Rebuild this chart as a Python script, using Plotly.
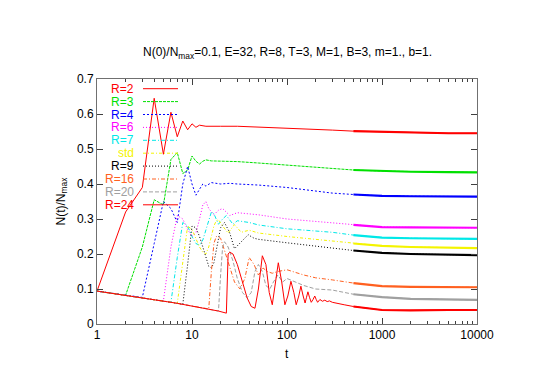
"""Population ratio N(t)/Nmax for several R values (gnuplot-style recreation)."""

import plotly.graph_objects as go

# Shared early decline, before each curve takes off at t = R - 1
DECLINE_T = [1, 2, 3, 4, 5, 6, 7, 8, 9, 10, 12, 15, 19, 23]
DECLINE_V = [0.094, 0.082, 0.076, 0.070, 0.066, 0.062, 0.059, 0.056, 0.054,
             0.052, 0.048, 0.043, 0.037, 0.031]

R2_T = [2, 3, 4, 5, 6, 7, 8, 9, 10, 11, 12, 14, 17, 20, 30, 50, 100, 200, 300,
        500, 1000, 2000, 3000, 5000, 10000]
R2_V = [0.32, 0.39, 0.645, 0.485, 0.605, 0.535, 0.58, 0.555, 0.572, 0.562,
        0.568, 0.565, 0.566, 0.565, 0.565, 0.563, 0.56, 0.557, 0.554, 0.551,
        0.549, 0.547, 0.546, 0.545, 0.545]

R3_T = [3, 4, 5, 6, 7, 8, 9, 10, 11, 12, 13, 14, 16, 20, 30, 50, 100, 200, 300,
        500, 1000, 2000, 5000, 10000]
R3_V = [0.22, 0.355, 0.34, 0.47, 0.49, 0.43, 0.44, 0.48, 0.465, 0.457, 0.465,
        0.469, 0.466, 0.466, 0.464, 0.46, 0.454, 0.447, 0.443, 0.44, 0.437,
        0.435, 0.434, 0.433]

R4_T = [4, 5, 6, 7, 8, 9, 10, 11, 12, 13, 14, 16, 20, 25, 30, 50, 100, 200,
        300, 500, 1000, 2000, 5000, 10000]
R4_V = [0.23, 0.35, 0.33, 0.29, 0.40, 0.45, 0.40, 0.368, 0.385, 0.40, 0.394,
        0.404, 0.40, 0.402, 0.40, 0.397, 0.39, 0.38, 0.374, 0.37, 0.366, 0.365,
        0.364, 0.364]

R6_T = [6, 7, 8, 9, 10, 11, 12, 13, 14, 15, 17, 19, 21, 25, 30, 40, 50, 100,
        200, 300, 500, 1000, 2000, 5000, 10000]
R6_V = [0.22, 0.31, 0.30, 0.27, 0.25, 0.26, 0.30, 0.34, 0.35, 0.33, 0.312,
        0.325, 0.33, 0.31, 0.318, 0.314, 0.312, 0.30, 0.293, 0.289, 0.283,
        0.277, 0.276, 0.275, 0.275]

R7_T = [7, 8, 9, 10, 11, 12, 13, 14, 15, 16, 17, 19, 21, 23, 27, 30, 40, 50,
        100, 200, 300, 500, 1000, 2000, 5000, 10000]
R7_V = [0.19, 0.29, 0.28, 0.25, 0.23, 0.225, 0.24, 0.27, 0.30, 0.32, 0.315,
        0.285, 0.30, 0.31, 0.285, 0.295, 0.29, 0.283, 0.272, 0.265, 0.262,
        0.254, 0.247, 0.245, 0.244, 0.243]

STD_T = [8, 9, 10, 11, 12, 13, 14, 15, 16, 17, 18, 19, 21, 24, 28, 33, 40, 50,
         100, 200, 300, 500, 1000, 2000, 5000, 10000]
STD_V = [0.18, 0.28, 0.27, 0.245, 0.22, 0.205, 0.20, 0.22, 0.25, 0.28, 0.295,
         0.298, 0.28, 0.26, 0.284, 0.262, 0.268, 0.26, 0.25, 0.242, 0.237,
         0.23, 0.223, 0.22, 0.218, 0.217]

R9_T = [9, 10, 11, 12, 13, 14, 15, 16, 17, 18, 19, 20, 22, 25, 28, 33, 39, 45,
        50, 100, 200, 300, 500, 1000, 2000, 5000, 10000]
R9_V = [0.17, 0.28, 0.275, 0.25, 0.22, 0.19, 0.165, 0.16, 0.175, 0.21, 0.25,
        0.275, 0.29, 0.26, 0.215, 0.235, 0.255, 0.245, 0.242, 0.232, 0.222,
        0.217, 0.21, 0.203, 0.2, 0.198, 0.197]

R16_T = [16, 17, 18, 20, 22, 25, 28, 32, 36, 40, 45, 50, 56, 62, 70, 80, 100,
         150, 200, 300, 500, 1000, 2000, 5000, 10000]
R16_V = [0.15, 0.23, 0.25, 0.245, 0.21, 0.16, 0.12, 0.10, 0.13, 0.19, 0.17,
         0.14, 0.16, 0.15, 0.145, 0.15, 0.155, 0.14, 0.132, 0.126, 0.117,
         0.108, 0.106, 0.105, 0.105]

R20_T = [20, 21, 22, 24, 27, 30, 34, 38, 42, 46, 50, 55, 60, 66, 72, 80, 90,
         100, 150, 200, 300, 500, 1000, 2000, 5000, 10000]
R20_V = [0.14, 0.22, 0.235, 0.22, 0.18, 0.13, 0.09, 0.075, 0.09, 0.15, 0.17,
         0.15, 0.11, 0.10, 0.12, 0.14, 0.12, 0.13, 0.11, 0.10, 0.097, 0.085,
         0.077, 0.072, 0.07, 0.069]

R24_T = [24, 25, 27, 30, 34, 38, 42, 46, 50, 55, 60, 65, 70, 75, 81, 88, 95,
         102, 110, 118, 125, 133, 140, 148, 155, 160, 166, 173, 180, 188, 196,
         203, 210, 222, 236, 250, 265, 280, 300, 400, 500, 700, 1000, 2000,
         3000, 5000, 10000]
R24_V = [0.20, 0.205, 0.2, 0.17, 0.12, 0.075, 0.05, 0.045, 0.1, 0.195, 0.17,
         0.09, 0.055, 0.11, 0.175, 0.12, 0.055, 0.08, 0.122, 0.09, 0.055, 0.08,
         0.108, 0.08, 0.06, 0.075, 0.092, 0.075, 0.062, 0.07, 0.08, 0.07,
         0.062, 0.07, 0.065, 0.068, 0.064, 0.066, 0.062, 0.055, 0.05, 0.045,
         0.04, 0.039, 0.04, 0.04, 0.04]

X_TICKS = [1, 10, 100, 1000, 10000]

# name, R (take-off), t, values, colour, dash
SERIES = [
    ("R=2", 2, R2_T, R2_V, "#ff0000", "solid"),
    ("R=3", 3, R3_T, R3_V, "#00e000", "3px,1px"),
    ("R=4", 4, R4_T, R4_V, "#0000ff", "2px,2px"),
    ("R=6", 6, R6_T, R6_V, "#ff00ff", "1px,2px"),
    ("R=7", 7, R7_T, R7_V, "#00e8e8", "4px,2px,1px,2px"),
    ("std", 8, STD_T, STD_V, "#f4f400", "3px,2px,1px,2px"),
    ("R=9", 9, R9_T, R9_V, "#000000", "1px,2px"),
    ("R=16", 16, R16_T, R16_V, "#ff6020", "4px,2px,1px,2px"),
    ("R=20", 20, R20_T, R20_V, "#a0a0a0", "4px,2px"),
    ("R=24", 24, R24_T, R24_V, "#ff0000", "solid"),
]

FONT = "Liberation Sans, Arial, sans-serif"

# plot area in pixels
LEFT, RIGHT, TOP, BOTTOM = 89, 469, 71, 316
W, H = 538, 381


def px_x(px):
    return (px - LEFT) / (RIGHT - LEFT)


def px_y(py):
    return (BOTTOM - py) / (BOTTOM - TOP)


fig = go.Figure()

for name, r, ts, vs, color, dash in SERIES:
    head = [(t, v) for t, v in zip(DECLINE_T, DECLINE_V) if t < r]
    x = [t for t, _ in head] + ts
    y = [v for _, v in head] + vs
    fig.add_trace(
        go.Scatter(x=x, y=y, mode="lines", name=name,
                   line={"color": color, "width": 1, "dash": dash},
                   showlegend=False)
    )
    # noisy tail looks thick in the original
    tail = [(t, v) for t, v in zip(ts, vs) if t >= 500]
    fig.add_trace(
        go.Scatter(x=[t for t, _ in tail], y=[v for _, v in tail], mode="lines",
                   line={"color": color, "width": 2.2}, showlegend=False,
                   hoverinfo="skip")
    )

# gnuplot-style key: label right aligned, sample to the right
for i, (name, _, _, _, color, dash) in enumerate(SERIES):
    py = 80.7 + i * 12.9
    fig.add_annotation(x=px_x(128), y=px_y(py), xref="paper", yref="paper",
                       text=name, showarrow=False, xanchor="right",
                       yanchor="middle", height=12,
                       font={"color": color, "size": 12, "family": FONT})
    fig.add_shape(type="line", xref="paper", yref="paper",
                  x0=px_x(135), x1=px_x(170), y0=px_y(py), y1=px_y(py),
                  line={"color": color, "width": 1, "dash": dash})

fig.add_annotation(x=0.5, y=px_y(45), xref="paper", yref="paper",
                   text="N(0)/N<sub>max</sub>=0.1, E=32, R=8, T=3, M=1, B=3, m=1., b=1.",
                   showarrow=False, yanchor="middle",
                   font={"size": 12, "family": FONT, "color": "black"})
fig.add_annotation(x=px_x(43), y=0.5, xref="paper", yref="paper",
                   text="N(t)/N<sub>max</sub>", textangle=-90, showarrow=False,
                   font={"size": 12, "family": FONT, "color": "black"})
fig.add_annotation(x=0.5, y=px_y(346), xref="paper", yref="paper", text="t",
                   showarrow=False, yanchor="middle",
                   font={"size": 12, "family": FONT, "color": "black"})

axis_common = dict(
    showline=True, linecolor="#707070", linewidth=1, mirror="allticks",
    ticks="inside", ticklen=6, tickcolor="#404040", showgrid=False,
    zeroline=False, tickfont={"size": 12, "family": FONT, "color": "black"},
)

fig.update_xaxes(
    type="log", range=[0, 4], tickvals=X_TICKS,
    ticktext=[str(t) for t in X_TICKS],
    minor={"ticks": "inside", "ticklen": 3, "tickcolor": "#404040",
           "dtick": "D1", "showgrid": False},
    **axis_common,
)
fig.update_yaxes(range=[0, 0.7], dtick=0.1, **axis_common)

fig.update_layout(
    width=W, height=H,
    margin={"l": LEFT, "r": W - RIGHT, "t": TOP, "b": H - BOTTOM},
    paper_bgcolor="white", plot_bgcolor="white",
    font={"family": FONT},
)

fig.write_html("out.html")
